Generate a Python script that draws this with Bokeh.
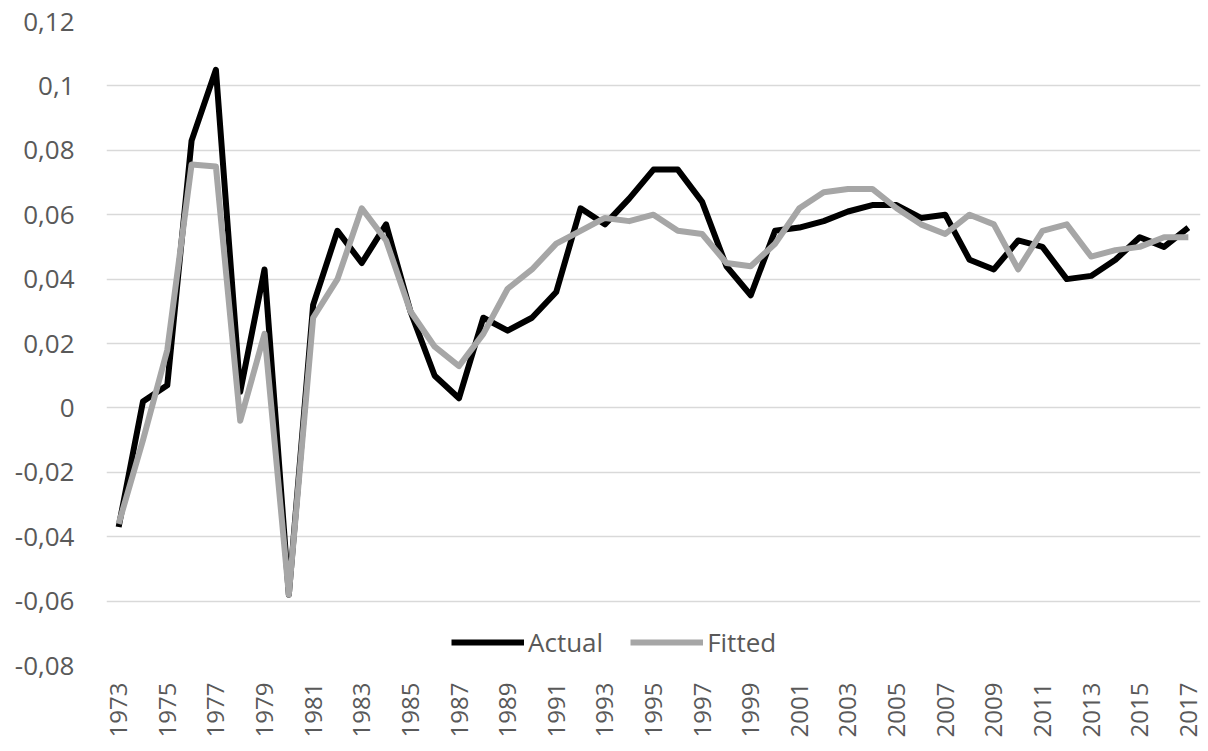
from bokeh.plotting import figure
from bokeh.models import FixedTicker, CustomJSTickFormatter, Range1d, Legend, LegendItem
from bokeh.embed import file_html
from bokeh.resources import INLINE
import math

years = list(range(1973, 2018))
actual = [-0.037, 0.002, 0.007, 0.083, 0.105, 0.005, 0.043, -0.058, 0.032, 0.055,
          0.045, 0.057, 0.030, 0.010, 0.003, 0.028, 0.024, 0.028, 0.036, 0.062,
          0.057, 0.065, 0.074, 0.074, 0.064, 0.044, 0.035, 0.055, 0.056, 0.058,
          0.061, 0.063, 0.063, 0.059, 0.060, 0.046, 0.043, 0.052, 0.050, 0.040,
          0.041, 0.046, 0.053, 0.050, 0.056]
fitted = [-0.036, -0.010, 0.018, 0.0756, 0.075, -0.004, 0.023, -0.058, 0.028, 0.040,
          0.062, 0.052, 0.030, 0.019, 0.013, 0.023, 0.037, 0.043, 0.051, 0.055,
          0.059, 0.058, 0.060, 0.055, 0.054, 0.045, 0.044, 0.051, 0.062, 0.067,
          0.068, 0.068, 0.062, 0.057, 0.054, 0.060, 0.057, 0.043, 0.055, 0.057,
          0.047, 0.049, 0.050, 0.053, 0.053]
y_tick_values = [-0.08, -0.06, -0.04, -0.02, 0.0, 0.02, 0.04, 0.06, 0.08, 0.1, 0.12]
y_tick_labels = ["-0,08", "-0,06", "-0,04", "-0,02", "0", "0,02", "0,04", "0,06", "0,08", "0,1", "0,12"]
x_tick_years = list(range(1973, 2018, 2))

FONT = "Open Sans"
TXT = "#595959"

p = figure(width=1203, height=745, output_backend="svg", toolbar_location=None,
           x_range=Range1d(1972.5, 2017.5), y_range=Range1d(-0.08, 0.12),
           min_border_left=106, min_border_top=21, min_border_right=3, min_border_bottom=80)
p.outline_line_color = None
p.background_fill_color = "white"

r_act = p.line(years, actual, line_color="black", line_width=6, line_join="round")
r_fit = p.line(years, fitted, line_color="#A6A6A6", line_width=6, line_join="round")

p.xgrid.grid_line_color = None
p.ygrid.grid_line_color = "#D9D9D9"
p.ygrid.grid_line_width = 1.5

p.yaxis.ticker = FixedTicker(ticks=y_tick_values)
p.yaxis.formatter = CustomJSTickFormatter(args=dict(vals=y_tick_values, labs=y_tick_labels), code="""
for (let i = 0; i < vals.length; i++) { if (Math.abs(vals[i] - tick) < 1e-9) return labs[i]; }
return '';
""")
p.xaxis.ticker = FixedTicker(ticks=x_tick_years)
p.xaxis.major_label_orientation = math.pi / 2

for ax in (p.xaxis[0], p.yaxis[0]):
    ax.axis_line_color = None
    ax.major_tick_line_color = None
    ax.minor_tick_line_color = None
    ax.major_tick_out = 0
    ax.major_tick_in = 0
    ax.major_label_text_font = FONT
    ax.major_label_text_color = TXT
p.yaxis.major_label_text_font_size = "26px"
p.xaxis.major_label_text_font_size = "24px"
p.yaxis.major_label_standoff = 32
p.xaxis.major_label_standoff = 17

legend = Legend(items=[LegendItem(label="Actual", renderers=[r_act]),
                       LegendItem(label="Fitted", renderers=[r_fit])],
                orientation="horizontal", location=(345, 5),
                glyph_width=73, glyph_height=26, label_height=26, label_standoff=4,
                spacing=27, padding=0, margin=0,
                label_text_font=FONT, label_text_color=TXT, label_text_font_size="26px",
                background_fill_alpha=0, border_line_color=None)
p.add_layout(legend)

open("out.html", "w").write(file_html(p, INLINE))
